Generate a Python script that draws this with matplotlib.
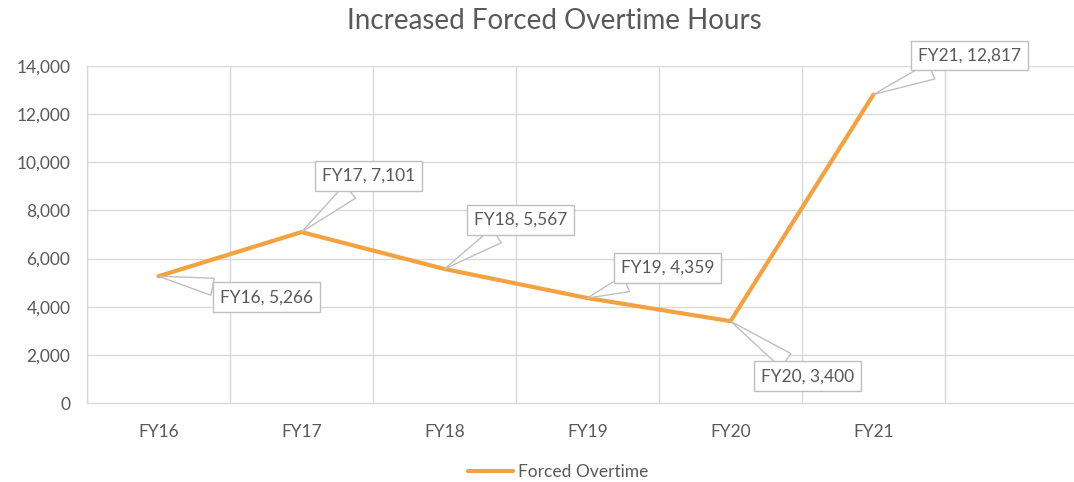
import matplotlib
matplotlib.use("Agg")
import matplotlib.pyplot as plt

# --- data ---------------------------------------------------------------
years = ["FY16", "FY17", "FY18", "FY19", "FY20", "FY21"]
hours = [5266, 7101, 5567, 4359, 3400, 12817]
yticks = [0, 2000, 4000, 6000, 8000, 10000, 12000, 14000]

# label box offsets from each point, in pixels (x right, y up)
label_offsets = [(108, -21), (67, 56), (76, 49), (80, 30), (77, -55), (96, 39)]

LINE = "#F4A23F"
TEXT = "#595959"
GRID = "#d9d9d9"

plt.rcParams["font.family"] = ["Lato", "DejaVu Sans"]

fig = plt.figure(figsize=(10.74, 4.82), dpi=100)
ax = fig.add_axes([87 / 1074, 79 / 482, 1 - 87 / 1074, 337 / 482])

x = list(range(len(years)))
ax.plot(x, hours, color=LINE, lw=3, solid_capstyle="round",
        solid_joinstyle="miter", label="Forced Overtime", zorder=3)

ax.set_xlim(-0.5, -0.5 + 987 / 143)
ax.set_ylim(0, 14000)
ax.set_yticks(yticks)
ax.set_yticklabels([f"{v:,}" for v in yticks])
ax.set_xticks(x)
ax.set_xticklabels(years)

# gridlines: horizontal at ticks, vertical at category boundaries
for v in yticks[1:]:
    ax.axhline(v, color=GRID, lw=1, zorder=1)
for b in range(len(years) + 1):
    ax.axvline(b - 0.5, color=GRID, lw=1, zorder=1)

for s in ["top", "right"]:
    ax.spines[s].set_visible(False)
for s in ["left", "bottom"]:
    ax.spines[s].set_color(GRID)
    ax.spines[s].set_linewidth(1)
ax.tick_params(length=0, labelsize=12.5, colors=TEXT)
ax.tick_params(axis="x", pad=15)
ax.tick_params(axis="y", pad=12)

# callout labels
for xi, yi, name, (dx, dy) in zip(x, hours, years, label_offsets):
    ax.annotate(f"{name}, {yi:,}", xy=(xi, yi), xytext=(dx, dy),
                textcoords="offset pixels", ha="center", va="center",
                fontsize=12.5, color=TEXT, zorder=5,
                bbox=dict(boxstyle="square,pad=0.4", fc="white",
                          ec="#bfbfbf", lw=1),
                arrowprops=dict(arrowstyle="wedge,tail_width=1.0,shrink_factor=0.5",
                                fc="white", ec="#bfbfbf", lw=1,
                                shrinkA=0, shrinkB=0))

fig.text(554 / 1074, 1 - 21 / 482, "Increased Forced Overtime Hours",
         ha="center", va="center", fontsize=20, color=TEXT)

fig.legend(loc="center", bbox_to_anchor=(558 / 1074, 1 - 472 / 482), frameon=False,
           fontsize=12.5, labelcolor=TEXT, handlelength=2.6, handletextpad=0.3)

fig.savefig("out.png", dpi=100)
